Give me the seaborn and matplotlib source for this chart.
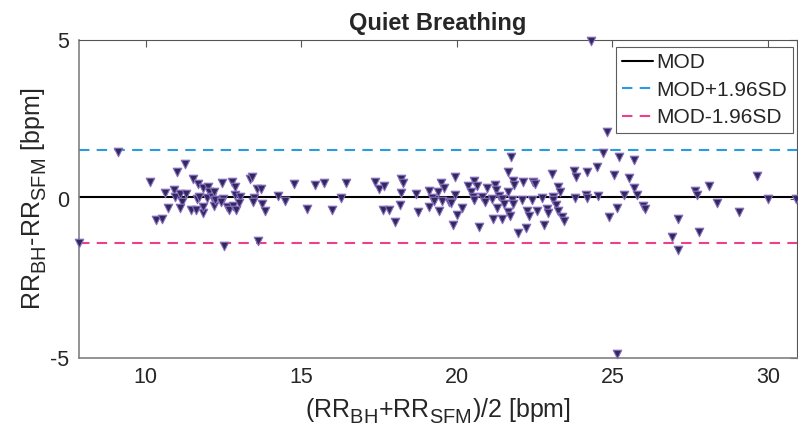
import matplotlib
matplotlib.use("Agg")
import matplotlib.pyplot as plt
import matplotlib._mathtext as mathtext_internal
import seaborn as sns
import pandas as pd

# mean of the two methods [bpm]
mean_rr = [7.85, 9.10, 10.13, 11.00, 11.25, 10.61, 10.71, 10.32, 10.51, 10.90,
           10.93, 11.09, 11.16, 11.09, 11.29, 11.51, 11.67, 11.45, 11.61, 11.83,
           11.83, 11.64, 11.70, 11.83, 11.99, 12.03, 11.96, 12.12, 12.19, 12.19,
           12.22, 12.44, 12.77, 12.86, 12.48, 12.41, 12.60, 12.67, 12.80, 12.89,
           12.86, 13.02, 12.99, 13.34, 13.41, 13.57, 13.70, 13.47, 13.44, 12.51,
           13.60, 13.73, 13.83, 14.24, 14.47, 14.76, 15.18, 15.43, 15.72, 15.98,
           16.27, 16.43, 17.36, 17.49, 17.65, 17.62, 17.81, 18.01, 18.20, 18.26,
           18.20, 18.17, 18.68, 18.75, 19.10, 19.20, 19.26, 19.39, 19.49, 19.58,
           19.52, 19.42, 19.10, 19.74, 19.94, 19.94, 19.81, 20.16, 20.00, 19.87,
           20.35, 20.55, 20.64, 20.45, 20.51, 20.55, 20.71, 20.80, 20.90, 20.96,
           21.13, 21.22, 21.25, 21.29, 21.16, 21.35, 21.45, 21.51, 21.45, 21.64,
           21.74, 21.64, 21.64, 21.70, 21.77, 21.80, 21.83, 21.80, 21.96, 22.09,
           22.12, 22.22, 22.25, 22.32, 22.41, 22.44, 22.51, 22.57, 22.73, 22.80,
           22.89, 22.93, 23.05, 23.09, 23.09, 23.18, 23.25, 23.31, 23.25, 23.38,
           23.44, 23.76, 23.83, 23.79, 24.18, 24.15, 24.18, 24.50, 24.53, 24.69,
           24.82, 24.89, 25.05, 25.14, 25.21, 25.37, 25.53, 25.69, 25.69, 25.79,
           25.98, 26.04, 27.11, 27.65, 27.72, 28.10, 28.36, 26.91, 27.11, 27.78,
           29.07, 29.65, 30.00, 30.90, 24.31, 25.14]

# difference between the two methods [bpm]
diff_rr = [-1.40, 1.47, 0.52, 0.84, 1.09, 0.17, -0.30, -0.68, -0.65, 0.27,
           0.05, 0.14, -0.11, -0.30, 0.14, 0.62, 0.46, -0.36, -0.36, -0.46,
           -0.27, -0.02, 0.05, 0.33, 0.36, 0.21, 0.02, 0.05, 0.21, -0.24,
           -0.05, 0.49, 0.52, 0.36, -0.02, -0.11, -0.27, -0.36, -0.24, -0.36,
           0.11, 0.05, -0.14, 0.62, 0.68, 0.30, 0.30, 0.02, -0.11, -1.47,
           -1.34, -0.17, -0.39, 0.08, -0.08, 0.46, -0.33, 0.43, 0.49, -0.36,
           0.02, 0.49, 0.52, 0.30, 0.39, -0.36, -0.36, -0.74, 0.62, 0.49,
           0.17, -0.21, 0.14, -0.43, 0.24, 0.02, -0.08, 0.21, 0.49, 0.33,
           -0.08, -0.39, -0.27, -0.11, 0.68, 0.11, -0.14, -0.30, -0.52, -0.84,
           0.39, 0.55, 0.39, 0.21, 0.05, -0.05, -0.90, 0.05, -0.11, 0.33,
           -0.02, 0.43, 0.27, -0.30, -0.65, 0.08, -0.02, -0.17, -0.65, 0.21,
           1.31, 0.84, -0.43, -0.55, -0.05, 0.55, 0.43, -0.17, -1.09, -0.05,
           0.52, -0.93, -0.39, -0.55, -0.05, 0.52, 0.46, -0.39, 0.02, -0.84,
           -0.33, -0.46, 0.77, 0.05, -0.05, -0.21, 0.36, 0.21, -0.39, -0.58,
           -0.71, 0.87, 0.68, 0.02, 0.84, 0.11, 0.02, 0.99, 0.08, 1.44,
           2.10, -0.58, 0.74, -0.30, 1.31, 0.11, 0.65, 1.21, 0.33, 0.11,
           -0.24, -0.33, -0.62, 0.24, 0.11, 0.39, -0.14, -1.21, -1.62, -1.06,
           -0.43, 0.71, -0.02, -0.02, 4.97, -4.87]

mod = 0.05
upper = 1.53
lower = -1.40

df = pd.DataFrame({'mean': mean_rr, 'diff': diff_rr})

sns.set_style('white')
plt.rcParams['font.family'] = ['Liberation Sans', 'DejaVu Sans']
plt.rcParams['mathtext.fontset'] = 'custom'
plt.rcParams['mathtext.rm'] = 'Liberation Sans'
plt.rcParams['mathtext.it'] = 'Liberation Sans:italic'
plt.rcParams['axes.unicode_minus'] = False
# MATLAB-like subscripts: larger and lower
mathtext_internal.SHRINK_FACTOR = 0.8
mathtext_internal.FontConstantsBase.sub1 = 0.45
mathtext_internal.FontConstantsBase.sub2 = 0.55

fig = plt.figure(figsize=(7.98, 4.33), dpi=100)
ax = fig.add_axes([0.099, 0.174, 0.8995, 0.7337])

ax.axhline(mod, color='black', lw=1.5, label='MOD', zorder=1)
ax.axhline(upper, color='#2b9be0', lw=1.5, ls=(0, (5, 3.5)), label='MOD+1.96SD', zorder=1)
ax.axhline(lower, color='#ec3f8c', lw=1.5, ls=(0, (5, 3.5)), label='MOD-1.96SD', zorder=1)

sns.scatterplot(data=df, x='mean', y='diff', marker='v', s=38,
                color='#2e2a5c', edgecolor='#8a6cc0', linewidth=0.8,
                ax=ax, zorder=3, clip_on=False)

ax.set_xlim(7.85, 30.93)
ax.set_ylim(-5, 5)
ax.set_xticks([10, 15, 20, 25, 30])
ax.set_yticks([-5, 0, 5])
ax.tick_params(direction='in', length=5, width=0.8, color='#555555',
               labelsize=15.5, top=True, right=True, pad=7)
for side in ['left', 'bottom']:
    ax.spines[side].set_color('#808080')
    ax.spines[side].set_linewidth(1.2)
for side in ['top', 'right']:
    ax.spines[side].set_color('#555555')
    ax.spines[side].set_linewidth(0.8)

ax.set_xlabel(r'(RR$_{\mathrm{BH}}$+RR$_{\mathrm{SFM}}$)/2 [bpm]', fontsize=18, labelpad=6)
ax.set_ylabel(r'RR$_{\mathrm{BH}}$-RR$_{\mathrm{SFM}}$ [bpm]', fontsize=18, labelpad=1)
ax.set_title('Quiet Breathing', fontsize=17, fontweight='bold', pad=7)

leg = ax.legend(loc='upper right', bbox_to_anchor=(1 - 4 / 718, 1 - 7 / 317),
                borderaxespad=0, fontsize=15, frameon=True, fancybox=False,
                edgecolor='#333333', handlelength=1.45, handletextpad=0.15,
                borderpad=0.3, labelspacing=0.4)
leg.get_frame().set_linewidth(0.8)

fig.savefig('out.png', dpi=100)
